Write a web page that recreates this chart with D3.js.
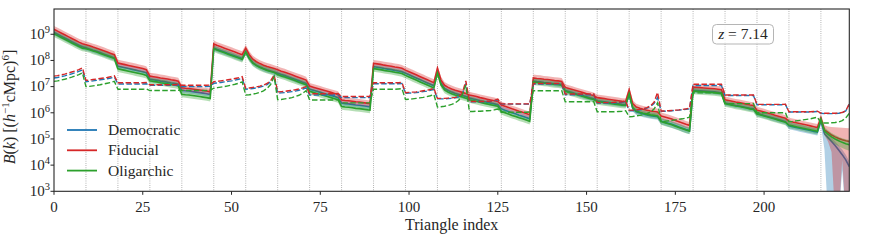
<!DOCTYPE html>
<html>
<head>
<meta charset="utf-8">
<script src="https://cdn.jsdelivr.net/npm/d3@7"></script>
<style>
  body { margin: 0; background: #fff; }
</style>
</head>
<body>
<svg id="chart" width="895" height="243"></svg>
<script>
// log10 of B(k), one row per group of 9 triangles
let fiducial = [
  [9.19, 9.12, 9.05, 8.98, 8.91, 8.84, 8.77, 8.70, 8.64],
  [8.60, 8.56, 8.51, 8.47, 8.42, 8.37, 8.32, 8.27, 8.22],
  [7.90, 7.87, 7.84, 7.81, 7.78, 7.75, 7.72, 7.69, 7.65],
  [7.40, 7.38, 7.36, 7.33, 7.31, 7.29, 7.26, 7.24, 7.21],
  [6.96, 6.94, 6.93, 6.91, 6.89, 6.87, 6.85, 6.83, 6.80],
  [8.63, 8.57, 8.52, 8.47, 8.42, 8.37, 8.32, 8.27, 8.22],
  [8.47, 8.22, 8.05, 7.95, 7.88, 7.82, 7.77, 7.73, 7.69],
  [7.64, 7.59, 7.55, 7.50, 7.45, 7.40, 7.35, 7.30, 7.25],
  [7.02, 6.98, 6.94, 6.90, 6.86, 6.82, 6.78, 6.74, 6.70],
  [6.49, 6.47, 6.46, 6.44, 6.42, 6.41, 6.39, 6.37, 6.35],
  [7.89, 7.87, 7.85, 7.82, 7.80, 7.78, 7.75, 7.73, 7.70],
  [7.63, 7.57, 7.51, 7.45, 7.39, 7.33, 7.27, 7.21, 7.15],
  [7.70, 7.25, 7.05, 6.97, 6.91, 6.86, 6.82, 6.78, 6.74],
  [6.68, 6.65, 6.62, 6.58, 6.55, 6.52, 6.49, 6.46, 6.43],
  [6.30, 6.25, 6.20, 6.15, 6.11, 6.06, 6.02, 5.97, 5.92],
  [7.33, 7.31, 7.30, 7.28, 7.27, 7.25, 7.23, 7.22, 7.20],
  [6.97, 6.93, 6.89, 6.85, 6.81, 6.77, 6.73, 6.69, 6.66],
  [6.58, 6.56, 6.54, 6.52, 6.50, 6.48, 6.46, 6.44, 6.43],
  [6.87, 6.35, 6.22, 6.17, 6.13, 6.10, 6.07, 6.05, 6.03],
  [5.88, 5.84, 5.80, 5.76, 5.71, 5.66, 5.61, 5.56, 5.52],
  [6.98, 6.97, 6.96, 6.95, 6.94, 6.93, 6.92, 6.90, 6.88],
  [6.50, 6.47, 6.44, 6.41, 6.39, 6.36, 6.33, 6.30, 6.28],
  [6.10, 6.07, 6.03, 5.99, 5.95, 5.91, 5.87, 5.83, 5.79],
  [5.68, 5.65, 5.62, 5.59, 5.56, 5.53, 5.50, 5.47, 5.44],
  [5.80, 5.35, 5.25, 5.15, 5.08, 5.02, 4.97, 4.93, 4.90]
].flat()

let democratic = [
  [9.07, 9.00, 8.93, 8.86, 8.79, 8.72, 8.65, 8.58, 8.52],
  [8.48, 8.44, 8.39, 8.35, 8.30, 8.25, 8.20, 8.15, 8.10],
  [7.78, 7.75, 7.72, 7.69, 7.66, 7.63, 7.60, 7.57, 7.53],
  [7.28, 7.26, 7.24, 7.21, 7.19, 7.17, 7.14, 7.12, 7.09],
  [6.86, 6.84, 6.83, 6.81, 6.79, 6.77, 6.75, 6.73, 6.70],
  [8.48, 8.42, 8.37, 8.32, 8.27, 8.22, 8.17, 8.12, 8.07],
  [8.34, 8.09, 7.92, 7.82, 7.75, 7.69, 7.64, 7.60, 7.56],
  [7.51, 7.46, 7.42, 7.37, 7.32, 7.27, 7.22, 7.17, 7.12],
  [6.90, 6.86, 6.82, 6.78, 6.74, 6.70, 6.66, 6.62, 6.58],
  [6.37, 6.35, 6.34, 6.32, 6.30, 6.29, 6.27, 6.25, 6.23],
  [7.76, 7.74, 7.72, 7.69, 7.67, 7.65, 7.62, 7.60, 7.57],
  [7.51, 7.45, 7.39, 7.33, 7.27, 7.21, 7.15, 7.09, 7.03],
  [7.58, 7.13, 6.93, 6.85, 6.79, 6.74, 6.70, 6.66, 6.62],
  [6.56, 6.53, 6.50, 6.46, 6.43, 6.40, 6.37, 6.34, 6.31],
  [6.15, 6.10, 6.05, 6.00, 5.96, 5.91, 5.87, 5.82, 5.77],
  [7.21, 7.19, 7.18, 7.16, 7.15, 7.13, 7.11, 7.10, 7.08],
  [6.85, 6.81, 6.77, 6.73, 6.69, 6.65, 6.61, 6.57, 6.54],
  [6.46, 6.44, 6.42, 6.40, 6.38, 6.36, 6.34, 6.32, 6.31],
  [6.69, 6.17, 6.04, 5.99, 5.95, 5.92, 5.89, 5.87, 5.85],
  [5.68, 5.64, 5.60, 5.56, 5.51, 5.46, 5.41, 5.36, 5.32],
  [6.86, 6.85, 6.84, 6.83, 6.82, 6.81, 6.80, 6.78, 6.76],
  [6.37, 6.34, 6.31, 6.28, 6.26, 6.23, 6.20, 6.17, 6.15],
  [5.97, 5.94, 5.90, 5.86, 5.82, 5.78, 5.74, 5.70, 5.66],
  [5.50, 5.47, 5.44, 5.41, 5.38, 5.35, 5.32, 5.29, 5.26],
  [5.70, 5.20, 5.05, 4.90, 4.75, 4.58, 4.40, 4.20, 3.94]
].flat()

let oligarchic = [
  [9.02, 8.95, 8.88, 8.81, 8.74, 8.67, 8.60, 8.53, 8.47],
  [8.45, 8.41, 8.36, 8.32, 8.27, 8.22, 8.17, 8.12, 8.07],
  [7.68, 7.65, 7.62, 7.59, 7.56, 7.53, 7.50, 7.47, 7.43],
  [7.22, 7.20, 7.18, 7.15, 7.13, 7.11, 7.08, 7.06, 7.03],
  [6.71, 6.69, 6.68, 6.66, 6.64, 6.62, 6.60, 6.58, 6.55],
  [8.45, 8.39, 8.34, 8.29, 8.24, 8.19, 8.14, 8.09, 8.04],
  [8.32, 8.07, 7.90, 7.80, 7.73, 7.67, 7.62, 7.58, 7.54],
  [7.46, 7.41, 7.37, 7.32, 7.27, 7.22, 7.17, 7.12, 7.07],
  [6.82, 6.78, 6.74, 6.70, 6.66, 6.62, 6.58, 6.54, 6.50],
  [6.24, 6.22, 6.21, 6.19, 6.17, 6.16, 6.14, 6.12, 6.10],
  [7.69, 7.67, 7.65, 7.62, 7.60, 7.58, 7.55, 7.53, 7.50],
  [7.43, 7.37, 7.31, 7.25, 7.19, 7.13, 7.07, 7.01, 6.95],
  [7.52, 7.07, 6.87, 6.79, 6.73, 6.68, 6.64, 6.60, 6.56],
  [6.50, 6.47, 6.44, 6.40, 6.37, 6.34, 6.31, 6.28, 6.25],
  [6.05, 6.00, 5.95, 5.90, 5.86, 5.81, 5.77, 5.72, 5.67],
  [7.18, 7.16, 7.15, 7.13, 7.12, 7.10, 7.08, 7.07, 7.05],
  [6.82, 6.78, 6.74, 6.70, 6.66, 6.62, 6.58, 6.54, 6.51],
  [6.43, 6.41, 6.39, 6.37, 6.35, 6.33, 6.31, 6.29, 6.28],
  [6.72, 6.20, 6.07, 6.02, 5.98, 5.95, 5.92, 5.90, 5.88],
  [5.66, 5.62, 5.58, 5.54, 5.49, 5.44, 5.39, 5.34, 5.30],
  [6.83, 6.82, 6.81, 6.80, 6.79, 6.78, 6.77, 6.75, 6.73],
  [6.35, 6.32, 6.29, 6.26, 6.24, 6.21, 6.18, 6.15, 6.13],
  [5.95, 5.92, 5.88, 5.84, 5.80, 5.76, 5.72, 5.68, 5.64],
  [5.53, 5.50, 5.47, 5.44, 5.41, 5.38, 5.35, 5.32, 5.29],
  [5.75, 5.30, 5.18, 5.08, 5.00, 4.93, 4.87, 4.82, 4.78]
].flat()

// dashed curves (log10)
let fiducialNoise = [
  [7.40, 7.42, 7.45, 7.48, 7.52, 7.56, 7.60, 7.65, 7.72],
  [7.24, 7.25, 7.27, 7.29, 7.31, 7.33, 7.35, 7.38, 7.41],
  [7.15, 7.15, 7.15, 7.15, 7.15, 7.15, 7.15, 7.15, 7.16],
  [7.07, 7.07, 7.07, 7.07, 7.07, 7.07, 7.07, 7.07, 7.08],
  [7.05, 7.05, 7.05, 7.05, 7.05, 7.05, 7.05, 7.05, 7.06],
  [7.19, 7.20, 7.22, 7.24, 7.26, 7.28, 7.31, 7.34, 7.38],
  [6.94, 6.95, 6.97, 6.99, 7.02, 7.06, 7.12, 7.22, 7.44],
  [6.80, 6.81, 6.82, 6.84, 6.86, 6.88, 6.91, 6.95, 7.00],
  [6.73, 6.73, 6.73, 6.73, 6.73, 6.73, 6.73, 6.73, 6.74],
  [6.62, 6.62, 6.62, 6.62, 6.62, 6.62, 6.62, 6.62, 6.63],
  [7.15, 7.15, 7.15, 7.15, 7.15, 7.15, 7.15, 7.15, 7.16],
  [6.77, 6.78, 6.79, 6.80, 6.82, 6.84, 6.86, 6.89, 6.94],
  [6.55, 6.55, 6.55, 6.56, 6.57, 6.59, 6.63, 6.75, 7.22],
  [6.43, 6.43, 6.43, 6.43, 6.43, 6.44, 6.45, 6.47, 6.52],
  [6.34, 6.34, 6.34, 6.34, 6.34, 6.34, 6.34, 6.34, 6.34],
  [7.12, 7.12, 7.12, 7.12, 7.12, 7.12, 7.12, 7.12, 7.13],
  [6.72, 6.72, 6.72, 6.72, 6.72, 6.72, 6.72, 6.72, 6.73],
  [6.39, 6.39, 6.39, 6.39, 6.39, 6.40, 6.41, 6.42, 6.45],
  [6.10, 6.10, 6.11, 6.13, 6.16, 6.20, 6.27, 6.40, 6.78],
  [6.07, 6.07, 6.08, 6.09, 6.10, 6.11, 6.13, 6.15, 6.17],
  [7.09, 7.09, 7.09, 7.09, 7.09, 7.09, 7.09, 7.09, 7.09],
  [6.68, 6.68, 6.68, 6.68, 6.68, 6.68, 6.68, 6.68, 6.68],
  [6.32, 6.32, 6.32, 6.32, 6.32, 6.32, 6.32, 6.32, 6.33],
  [6.04, 6.04, 6.04, 6.04, 6.04, 6.04, 6.04, 6.05, 6.06],
  [5.99, 5.98, 5.98, 5.98, 5.98, 5.99, 6.01, 6.08, 6.34]
].flat()

let democraticNoise = [
  [7.33, 7.35, 7.38, 7.41, 7.45, 7.49, 7.53, 7.58, 7.64],
  [7.19, 7.20, 7.22, 7.24, 7.26, 7.28, 7.30, 7.33, 7.36],
  [7.10, 7.10, 7.10, 7.10, 7.10, 7.10, 7.10, 7.10, 7.11],
  [7.05, 7.05, 7.05, 7.05, 7.05, 7.05, 7.05, 7.05, 7.06],
  [7.00, 7.00, 7.00, 7.00, 7.00, 7.00, 7.00, 7.00, 7.01],
  [7.13, 7.14, 7.16, 7.18, 7.20, 7.22, 7.25, 7.28, 7.32],
  [6.90, 6.91, 6.93, 6.95, 6.98, 7.02, 7.08, 7.18, 7.40],
  [6.75, 6.76, 6.77, 6.79, 6.81, 6.83, 6.86, 6.90, 6.95],
  [6.68, 6.68, 6.68, 6.68, 6.68, 6.68, 6.68, 6.68, 6.69],
  [6.58, 6.58, 6.58, 6.58, 6.58, 6.58, 6.58, 6.58, 6.59],
  [7.11, 7.11, 7.11, 7.11, 7.11, 7.11, 7.11, 7.11, 7.12],
  [6.74, 6.75, 6.76, 6.77, 6.79, 6.81, 6.83, 6.86, 6.90],
  [6.53, 6.53, 6.53, 6.54, 6.55, 6.57, 6.61, 6.72, 7.10],
  [6.42, 6.42, 6.42, 6.42, 6.42, 6.43, 6.44, 6.46, 6.50],
  [6.33, 6.33, 6.33, 6.33, 6.33, 6.33, 6.33, 6.33, 6.33],
  [7.10, 7.10, 7.10, 7.10, 7.10, 7.10, 7.10, 7.10, 7.11],
  [6.69, 6.69, 6.69, 6.69, 6.69, 6.69, 6.69, 6.69, 6.70],
  [6.37, 6.37, 6.37, 6.37, 6.37, 6.38, 6.39, 6.40, 6.43],
  [6.08, 6.08, 6.09, 6.11, 6.14, 6.18, 6.24, 6.35, 6.58],
  [6.06, 6.06, 6.07, 6.08, 6.09, 6.10, 6.12, 6.13, 6.15],
  [7.04, 7.04, 7.04, 7.04, 7.04, 7.04, 7.04, 7.04, 7.04],
  [6.66, 6.66, 6.66, 6.66, 6.66, 6.66, 6.66, 6.66, 6.66],
  [6.31, 6.31, 6.31, 6.31, 6.31, 6.31, 6.31, 6.31, 6.32],
  [6.03, 6.03, 6.03, 6.03, 6.03, 6.03, 6.03, 6.04, 6.05],
  [5.98, 5.97, 5.97, 5.97, 5.97, 5.98, 6.00, 6.07, 6.33]
].flat()

let oligarchicNoise = [
  [7.20, 7.22, 7.25, 7.28, 7.32, 7.36, 7.41, 7.46, 7.53],
  [7.00, 7.01, 7.03, 7.05, 7.07, 7.10, 7.13, 7.16, 7.20],
  [6.90, 6.90, 6.90, 6.90, 6.90, 6.90, 6.90, 6.90, 6.91],
  [6.85, 6.85, 6.85, 6.85, 6.85, 6.85, 6.85, 6.85, 6.86],
  [6.85, 6.85, 6.85, 6.85, 6.85, 6.85, 6.85, 6.85, 6.86],
  [6.94, 6.96, 6.98, 7.00, 7.03, 7.06, 7.09, 7.13, 7.18],
  [6.68, 6.69, 6.71, 6.74, 6.78, 6.84, 6.93, 7.08, 7.38],
  [6.50, 6.51, 6.53, 6.55, 6.58, 6.62, 6.67, 6.74, 6.85],
  [6.49, 6.49, 6.49, 6.49, 6.49, 6.49, 6.49, 6.49, 6.50],
  [6.38, 6.38, 6.38, 6.38, 6.38, 6.38, 6.38, 6.38, 6.39],
  [6.90, 6.90, 6.90, 6.90, 6.90, 6.90, 6.90, 6.91, 6.92],
  [6.51, 6.52, 6.53, 6.55, 6.57, 6.59, 6.62, 6.65, 6.70],
  [6.22, 6.23, 6.25, 6.28, 6.32, 6.38, 6.48, 6.68, 7.05],
  [6.05, 6.05, 6.06, 6.06, 6.07, 6.08, 6.09, 6.11, 6.14],
  [6.02, 6.02, 6.02, 6.02, 6.02, 6.02, 6.02, 6.02, 6.03],
  [6.84, 6.84, 6.84, 6.84, 6.84, 6.84, 6.84, 6.84, 6.85],
  [6.42, 6.42, 6.42, 6.42, 6.42, 6.42, 6.42, 6.42, 6.43],
  [6.04, 6.04, 6.04, 6.04, 6.04, 6.04, 6.05, 6.06, 6.08],
  [5.85, 5.86, 5.88, 5.90, 5.93, 5.97, 6.03, 6.14, 6.38],
  [5.66, 5.67, 5.69, 5.71, 5.73, 5.75, 5.77, 5.80, 5.83],
  [6.76, 6.76, 6.76, 6.76, 6.76, 6.76, 6.76, 6.76, 6.77],
  [6.35, 6.35, 6.35, 6.35, 6.35, 6.35, 6.35, 6.35, 6.36],
  [6.00, 6.00, 6.00, 6.00, 6.00, 6.00, 6.00, 6.00, 6.01],
  [5.66, 5.67, 5.69, 5.71, 5.73, 5.75, 5.77, 5.80, 5.83],
  [5.62, 5.61, 5.61, 5.62, 5.63, 5.65, 5.70, 5.80, 5.98]
].flat()

// half width of the shaded band (dex), one value per group of 9
let fiducialSpread  = [0.13, 0.13, 0.13, 0.13, 0.12, 0.13, 0.13, 0.13, 0.12, 0.12, 0.13, 0.13, 0.13, 0.12, 0.12, 0.13, 0.12, 0.12, 0.13, 0.13, 0.12, 0.12, 0.12, 0.13]
let democraticSpread = [0.11, 0.11, 0.11, 0.11, 0.10, 0.11, 0.11, 0.11, 0.10, 0.10, 0.11, 0.11, 0.11, 0.10, 0.11, 0.11, 0.10, 0.10, 0.12, 0.13, 0.10, 0.10, 0.11, 0.13]
let oligarchicSpread = [0.12, 0.12, 0.12, 0.12, 0.12, 0.12, 0.12, 0.12, 0.12, 0.12, 0.12, 0.12, 0.12, 0.12, 0.12, 0.12, 0.12, 0.12, 0.12, 0.12, 0.12, 0.12, 0.12, 0.12]
// last group (216-224): band edges read directly (2 = below the axis)
let fiducialTailLo  = [5.62, 5.15, 4.90, 4.50, 2, 2, 4.20, 2, 2]
let fiducialTailHi  = [5.95, 5.52, 5.48, 5.46, 5.45, 5.44, 5.43, 5.42, 5.41]
let democraticTailLo = [5.55, 4.60, 2, 2, 2, 2, 3.80, 2, 2]
let democraticTailHi = [5.85, 5.35, 5.20, 5.05, 4.90, 4.75, 4.60, 4.40, 4.15]
let oligarchicTailLo = [5.62, 5.15, 5.00, 4.90, 4.80, 4.72, 4.65, 4.60, 4.55]
let oligarchicTailHi = [5.88, 5.45, 5.33, 5.23, 5.15, 5.08, 5.03, 4.99, 4.96]

let seriesNames = ['Democratic', 'Fiducial', 'Oligarchic']
let seriesColors = ['#1f77b4', '#d62728', '#2ca02c']
let xTicks = [0, 25, 50, 75, 100, 125, 150, 175, 200]
let yTickExps = [3, 4, 5, 6, 7, 8, 9]
let groupSize = 9
let redshiftLabel = '7.14'

let serif = '"Liberation Serif"'
let ink = '#262626'
let margin = {left: 54, top: 9, right: 45.7, bottom: 51.7}
let width = 895, height = 243
let x = d3.scaleLinear().domain([0, 224]).range([margin.left, width - margin.right])
let y = d3.scaleLog().domain([1e3, Math.pow(10, 9.966)]).range([height - margin.bottom, margin.top])
let p10 = v => Math.pow(10, v)

const svg = d3.select('#chart')

svg.append('clipPath').attr('id', 'clip')
  .append('rect')
  .attr('x', margin.left).attr('y', margin.top)
  .attr('width', x.range()[1] - margin.left)
  .attr('height', y.range()[0] - margin.top)

// dotted separators between groups
let seps = d3.range(groupSize, 224, groupSize)
svg.append('g').selectAll('line').data(seps).join('line')
  .attr('x1', d => x(d)).attr('x2', d => x(d))
  .attr('y1', margin.top).attr('y2', y.range()[0])
  .attr('stroke', '#8a8a8a').attr('stroke-width', 0.8)
  .attr('stroke-dasharray', '0.8,1.4')

function band(vals, spread, tailLo, tailHi) {
  return vals.map((v, i) => {
    let g = Math.floor(i / groupSize)
    if (g >= spread.length) {
      let k = i - g * groupSize
      return [tailLo[k], tailHi[k]]
    }
    return [v - spread[g], v + spread[g]]
  })
}

let series = [
  {vals: democratic, noise: democraticNoise, band: band(democratic, democraticSpread, democraticTailLo, democraticTailHi)},
  {vals: fiducial, noise: fiducialNoise, band: band(fiducial, fiducialSpread, fiducialTailLo, fiducialTailHi)},
  {vals: oligarchic, noise: oligarchicNoise, band: band(oligarchic, oligarchicSpread, oligarchicTailLo, oligarchicTailHi)}
]

const plot = svg.append('g').attr('clip-path', 'url(#clip)')

let area = d3.area()
  .x((d, i) => x(i))
  .y0(d => y(p10(d[0])))
  .y1(d => y(p10(d[1])))
let line = d3.line()
  .x((d, i) => x(i))
  .y(d => y(p10(d)))

series.forEach((s, j) => {
  plot.append('path').datum(s.band)
    .attr('d', area)
    .attr('fill', seriesColors[j]).attr('fill-opacity', 0.35)
  plot.append('path').datum(s.vals)
    .attr('d', line)
    .attr('fill', 'none').attr('stroke', seriesColors[j]).attr('stroke-width', 1.6)
})
series.forEach((s, j) => {
  plot.append('path').datum(s.noise)
    .attr('d', line)
    .attr('fill', 'none').attr('stroke', seriesColors[j]).attr('stroke-width', 1.4)
    .attr('stroke-dasharray', '5.5,2.4')
})

// frame
svg.append('rect')
  .attr('x', margin.left).attr('y', margin.top)
  .attr('width', x.range()[1] - margin.left)
  .attr('height', y.range()[0] - margin.top)
  .attr('fill', 'none').attr('stroke', ink).attr('stroke-width', 1.1)

// x axis
let xAxis = svg.append('g')
xAxis.selectAll('line').data(xTicks).join('line')
  .attr('x1', d => x(d)).attr('x2', d => x(d))
  .attr('y1', y.range()[0]).attr('y2', y.range()[0] + 3.5)
  .attr('stroke', ink).attr('stroke-width', 1)
xAxis.selectAll('text').data(xTicks).join('text')
  .style('font-family', serif).attr('fill', ink)
  .attr('x', d => x(d)).attr('y', 211.5)
  .attr('text-anchor', 'middle').attr('font-size', 15)
  .text(d => d)
svg.append('text')
  .style('font-family', serif).attr('fill', ink)
  .attr('x', (margin.left + x.range()[1]) / 2).attr('y', 230)
  .attr('text-anchor', 'middle').attr('font-size', 16)
  .text('Triangle index')

// y axis
let yAxis = svg.append('g')
yAxis.selectAll('line').data(yTickExps).join('line')
  .attr('x1', margin.left - 3.5).attr('x2', margin.left)
  .attr('y1', d => y(p10(d))).attr('y2', d => y(p10(d)))
  .attr('stroke', ink).attr('stroke-width', 1)
let yt = yAxis.selectAll('text').data(yTickExps).join('text')
  .style('font-family', serif).attr('fill', ink)
  .attr('x', 50).attr('y', d => y(p10(d)) + 4.8)
  .attr('text-anchor', 'end').attr('font-size', 15)
yt.append('tspan').text('10')
yt.append('tspan').attr('font-size', 10.5).attr('dy', -6).text(d => d)

let ylab = svg.append('text')
  .style('font-family', serif).attr('fill', ink)
  .attr('transform', 'translate(15,107) rotate(-90)')
  .attr('text-anchor', 'middle').attr('font-size', 16)
ylab.append('tspan').attr('font-style', 'italic').text('B')
ylab.append('tspan').text('(')
ylab.append('tspan').attr('font-style', 'italic').text('k')
ylab.append('tspan').text(') [(')
ylab.append('tspan').attr('font-style', 'italic').text('h')
ylab.append('tspan').attr('font-size', 11).attr('dy', -6).text('\u22121')
ylab.append('tspan').attr('dy', 6).text('cMpc)')
ylab.append('tspan').attr('font-size', 11).attr('dy', -6).text('6')
ylab.append('tspan').attr('dy', 6).text(']')

// legend
let legend = svg.append('g')
  .selectAll('g').data(seriesNames).join('g')
  .attr('transform', (d, i) => `translate(67,${130 + i * 20.3})`)
legend.append('line')
  .attr('x1', 0).attr('x2', 30)
  .attr('stroke', (d, i) => seriesColors[i]).attr('stroke-width', 1.8)
legend.append('text')
  .style('font-family', serif).attr('fill', ink)
  .attr('x', 41).attr('y', 5).attr('font-size', 15.5)
  .text(d => d)

// redshift box
let zb = svg.append('g')
zb.append('rect')
  .attr('x', 712.5).attr('y', 24.5).attr('width', 61).attr('height', 19.5).attr('rx', 4)
  .attr('fill', '#fff').attr('fill-opacity', 0.8)
  .attr('stroke', '#b5b5b5').attr('stroke-width', 1)
let zt = zb.append('text')
  .style('font-family', serif).attr('fill', ink)
  .attr('x', 743).attr('y', 38.8)
  .attr('text-anchor', 'middle').attr('font-size', 15.5)
zt.append('tspan').attr('font-style', 'italic').text('z')
zt.append('tspan').text(' = ' + redshiftLabel)
</script>
</body>
</html>
